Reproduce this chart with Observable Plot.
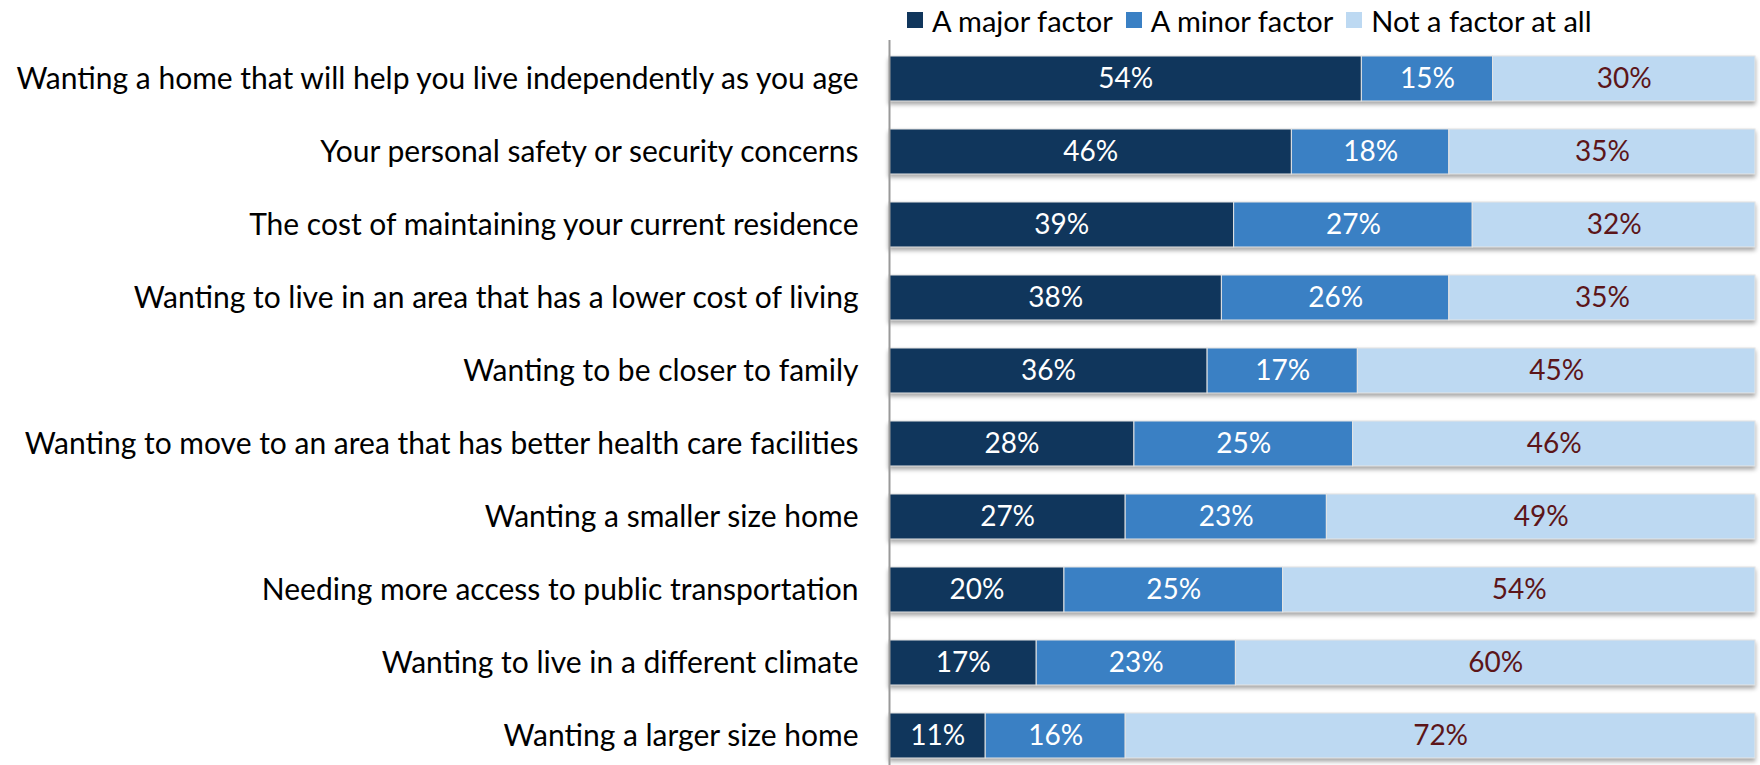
<!DOCTYPE html>
<html>
<head>
<meta charset="utf-8">
<script src="https://cdn.jsdelivr.net/npm/d3@7"></script>
<script src="https://cdn.jsdelivr.net/npm/@observablehq/plot@0.6"></script>
<style>
  html, body { margin: 0; padding: 0; background: #fff; }
  body { width: 1760px; height: 765px; overflow: hidden; font-family: Lato, "Open Sans", sans-serif; }
  #legend { height: 40px; display: flex; align-items: center; padding-left: 907px; box-sizing: border-box; font-size: 29px; color: #000; }
  #legend .item { display: flex; align-items: center; margin-right: 13px; }
  #legend .sw { width: 16px; height: 16px; margin-right: 9px; }
</style>
</head>
<body>
<div id="legend"></div>
<div id="chart"></div>
<script>
const categories = [
  "Wanting a home that will help you live independently as you age",
  "Your personal safety or security concerns",
  "The cost of maintaining your current residence",
  "Wanting to live in an area that has a lower cost of living",
  "Wanting to be closer to family",
  "Wanting to move to an area that has better health care facilities",
  "Wanting a smaller size home",
  "Needing more access to public transportation",
  "Wanting to live in a different climate",
  "Wanting a larger size home"
];
const seriesNames = ["A major factor", "A minor factor", "Not a factor at all"];
const major = [54, 46, 39, 38, 36, 28, 27, 20, 17, 11];
const minor = [15, 18, 27, 26, 17, 25, 23, 25, 23, 16];
const notFactor = [30, 35, 32, 35, 45, 46, 49, 54, 60, 72];
const colors = ["#10365c", "#3a80c4", "#bdd9f2"];
const labelColors = ["#ffffff", "#ffffff", "#5c1519"];

const seriesValues = [major, minor, notFactor];
const data = [];
categories.forEach((c, i) => {
  seriesNames.forEach((s, j) => {
    data.push({category: c, series: s, value: seriesValues[j][i], si: j});
  });
});

const legend = document.getElementById("legend");
seriesNames.forEach((s, j) => {
  const it = document.createElement("div");
  it.className = "item";
  const sw = document.createElement("div");
  sw.className = "sw";
  sw.style.background = colors[j];
  const tx = document.createElement("span");
  tx.textContent = s;
  it.appendChild(sw); it.appendChild(tx);
  legend.appendChild(it);
});

const labelSize = 30;
const valueSize = 28;
const chart = Plot.plot({
  width: 1760,
  height: 725,
  marginLeft: 889,
  marginRight: 5,
  marginTop: 0,
  marginBottom: 0,
  style: {fontFamily: "Lato, 'Open Sans', sans-serif", fontSize: labelSize + "px", background: "#fff", color: "#000"},
  x: {domain: [0, 1], axis: null},
  y: {domain: categories, range: [-13.3, 748], padding: 0.386, label: null},
  color: {domain: seriesNames, range: colors},
  marks: [
    Plot.barX(data, Plot.stackX({
      x: "value", y: "category", z: "series", fill: "series",
      offset: "normalize", order: null,
      stroke: "#e4e4e4", strokeWidth: 1
    })),
    Plot.text(data, Plot.stackX({
      x: "value", y: "category", z: "series",
      offset: "normalize", order: null,
      text: d => d.value + "%",
      fill: d => labelColors[d.si],
      fontSize: valueSize
    })),
    Plot.axisY({tickSize: 0, tickPadding: 31, fontSize: labelSize, fill: "#000", label: null}),
    Plot.ruleX([0], {stroke: "#999", strokeWidth: 2})
  ]
});
const barG = chart.querySelector('g[aria-label="bar"]');
if (barG) barG.style.filter = "drop-shadow(0px 3px 2px rgba(0,0,0,0.35))";
document.getElementById("chart").appendChild(chart);
</script>
</body>
</html>
